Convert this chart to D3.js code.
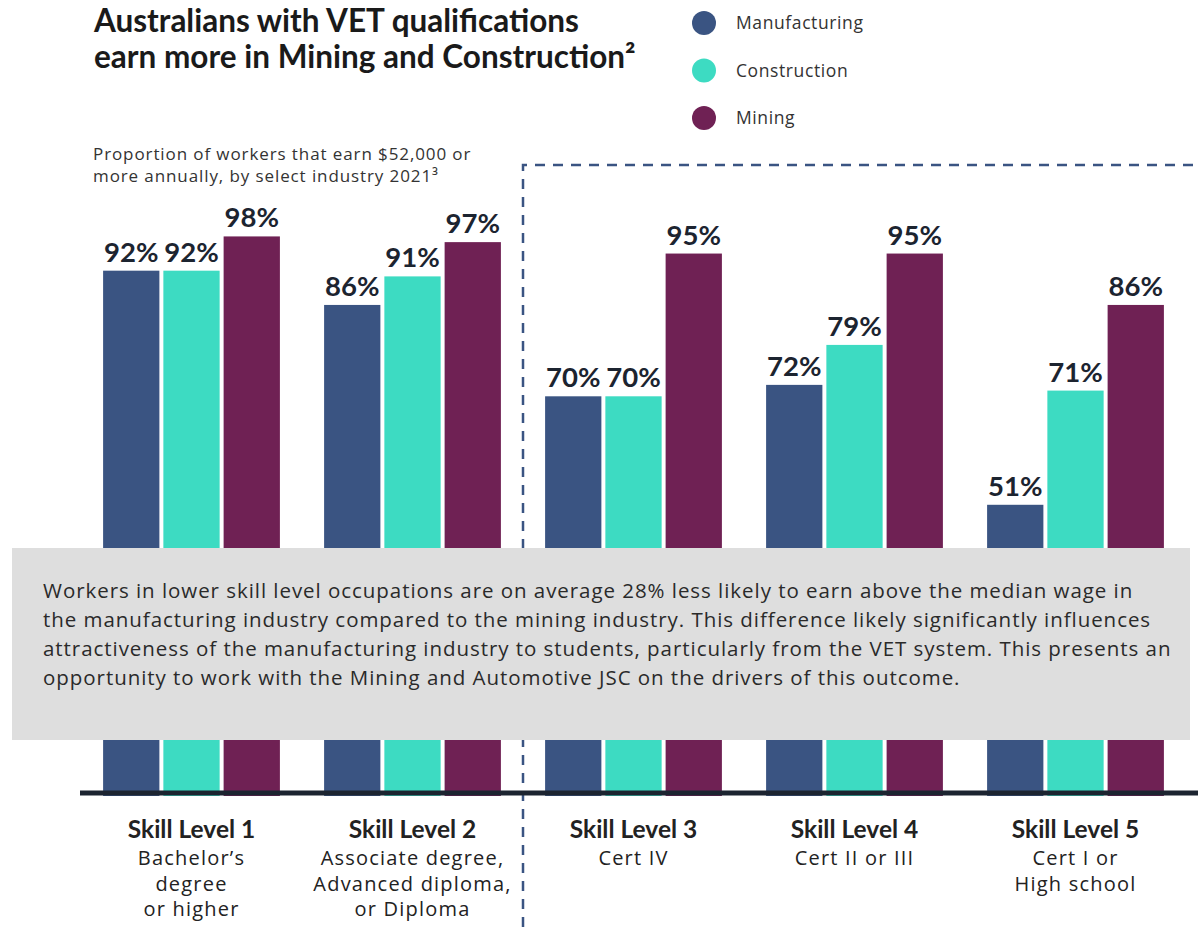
<!DOCTYPE html>
<html>
<head>
<meta charset="utf-8">
<script src="https://cdn.jsdelivr.net/npm/d3@7"></script>
<style>
  body { margin: 0; background: #fff; }
  svg { display: block; font-family: Lato, "Noto Sans", sans-serif; }
  .reg { font-family: "Open Sans", "Noto Sans", sans-serif; }
</style>
</head>
<body>
<div id="chart"></div>
<script>
// skill levels and their qualification sub lines
const levels = ['Skill Level 1', 'Skill Level 2', 'Skill Level 3', 'Skill Level 4', 'Skill Level 5'];
const levelNotes = [
  ['Bachelor\u2019s', 'degree', 'or higher'],
  ['Associate degree,', 'Advanced diploma,', 'or Diploma'],
  ['Cert IV'],
  ['Cert II or III'],
  ['Cert I or', 'High school']
];
const industries = ['Manufacturing', 'Construction', 'Mining'];
const colors = ['#3a5482', '#3ddbc2', '#6f2154'];

// % of workers earning $52,000+ per level
const manufacturing = [92, 86, 70, 72, 51];
const construction = [92, 91, 70, 79, 71];
const mining = [98, 97, 95, 95, 86];

const title = ['Australians with VET qualifications', 'earn more in Mining and Construction\u00b2'];
const subtitle = ['Proportion of workers that earn $52,000 or', 'more annually, by select industry 2021\u00b3'];
const note = [
  'Workers in lower skill level occupations are on average 28% less likely to earn above the median wage in',
  'the manufacturing industry compared to the mining industry. This difference likely significantly influences',
  'attractiveness of the manufacturing industry to students, particularly from the VET system. This presents an',
  'opportunity to work with the Mining and Automotive JSC on the drivers of this outcome.'
];

const width = 1198, height = 927;
const series = [manufacturing, construction, mining];
const rows = levels.map((lv, i) => ({ level: lv, values: series.map((s, j) => ({ key: industries[j], value: s[i] })) }));

const svg = d3.select('#chart').append('svg')
  .attr('width', width)
  .attr('height', height);

const x0 = d3.scaleBand().domain(levels).range([81, 1186]).paddingInner(0.2).paddingOuter(0.1);
const x1 = d3.scaleBand().domain(industries).range([0, x0.bandwidth()]).paddingInner(0.066);
const y = d3.scaleLinear().domain([0, 100]).range([796, 225]);
const color = d3.scaleOrdinal().domain(industries).range(colors);

// title + subtitle
svg.append('g').selectAll('text').data(title).enter().append('text')
  .attr('x', 94).attr('y', (d, i) => 32 + i * 36)
  .attr('font-size', 31.5).attr('font-weight', 700).attr('fill', '#1a1a1a')
  .text(d => d);

svg.append('g').attr('class', 'reg').selectAll('text').data(subtitle).enter().append('text')
  .attr('x', 93).attr('y', (d, i) => 160 + i * 22)
  .attr('font-size', 17).attr('letter-spacing', 0.9).attr('fill', '#333')
  .text(d => d);

// legend
const legend = svg.append('g').attr('class', 'reg').selectAll('g').data(industries).enter().append('g')
  .attr('transform', (d, i) => `translate(704,${23 + i * 47.5})`);
legend.append('circle').attr('r', 12).attr('fill', d => color(d));
legend.append('text').attr('x', 32).attr('y', 6).attr('font-size', 17.5).attr('letter-spacing', 0.6)
  .attr('fill', '#333').text(d => d);

// dashed divider between level 2 and 3
const divX = x0(levels[2]) - x0.step() * x0.paddingInner() / 2;
svg.append('path')
  .attr('d', `M${divX},${height}V165H${width}`)
  .attr('fill', 'none').attr('stroke', '#3a5482').attr('stroke-width', 2.5)
  .attr('stroke-dasharray', '10,8');

// bars
const groups = svg.append('g').selectAll('g').data(rows).enter().append('g')
  .attr('transform', d => `translate(${x0(d.level)},0)`);

groups.selectAll('rect').data(d => d.values).enter().append('rect')
  .attr('x', d => x1(d.key))
  .attr('y', d => y(d.value))
  .attr('width', x1.bandwidth())
  .attr('height', d => y(0) - y(d.value))
  .attr('fill', d => color(d.key));

groups.selectAll('text.val').data(d => d.values).enter().append('text')
  .attr('class', 'val')
  .attr('x', d => x1(d.key) + x1.bandwidth() / 2)
  .attr('y', d => y(d.value) - 9)
  .attr('text-anchor', 'middle')
  .attr('font-size', 27.5).attr('font-weight', 700).attr('fill', '#1c2430')
  .text(d => d.value + '%');

// axis line
svg.append('line')
  .attr('x1', 80).attr('x2', width).attr('y1', 793).attr('y2', 793)
  .attr('stroke', '#1c2430').attr('stroke-width', 5);

// category labels
const labels = svg.append('g').selectAll('g').data(levels).enter().append('g')
  .attr('transform', d => `translate(${x0(d) + x0.bandwidth() / 2},0)`)
  .attr('text-anchor', 'middle').attr('fill', '#222');
labels.append('text').attr('y', 838).attr('font-size', 24.5).attr('font-weight', 700).text(d => d);
labels.selectAll('text.note').data((d, i) => levelNotes[i]).enter().append('text')
  .attr('class', 'note reg')
  .attr('y', (d, i) => 865 + i * 25.5)
  .attr('font-size', 20).attr('letter-spacing', 1.2)
  .text(d => d);

// grey callout box over the bars
svg.append('rect')
  .attr('x', 12).attr('y', 548).attr('width', 1178).attr('height', 192)
  .attr('fill', '#dedede');
svg.append('g').attr('class', 'reg').selectAll('text').data(note).enter().append('text')
  .attr('x', 43).attr('y', (d, i) => 598 + i * 29)
  .attr('font-size', 20.5).attr('letter-spacing', 0.95).attr('fill', '#2a2a2a')
  .text(d => d);
</script>
</body>
</html>
